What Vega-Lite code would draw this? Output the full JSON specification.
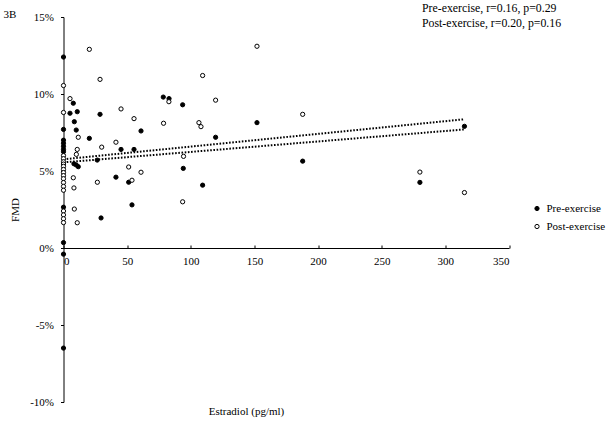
{
  "$schema": "https://vega.github.io/schema/vega-lite/v6.json",
  "width": 445.5,
  "height": 385,
  "autosize": "none",
  "padding": {"left": 63.5, "top": 17, "right": 100, "bottom": 20},
  "background": "white",
  "config": {
    "font": "Liberation Serif",
    "view": {"stroke": null},
    "axis": {"grid": false, "domainColor": "black", "tickColor": "black", "labelColor": "black", "titleColor": "black", "labelFont": "Liberation Serif", "titleFont": "Liberation Serif", "titleFontWeight": "normal", "labelFontSize": 11, "titleFontSize": 11},
    "legend": {"labelFont": "Liberation Serif", "labelColor": "black"}
  },
  "title": {
    "text": ["Pre-exercise, r=0.16, p=0.29", "Post-exercise, r=0.20, p=0.16"],
    "anchor": "start",
    "frame": "group",
    "dx": 358.5,
    "dy": 21,
    "offset": 0,
    "fontSize": 11.8,
    "fontWeight": "normal",
    "font": "Liberation Serif",
    "lineHeight": 15,
    "color": "black"
  },
  "datasets": {
    "points": [
      {"e": 0, "fmd": 12.4, "group": "Pre-exercise"},
      {"e": 0, "fmd": 7.7, "group": "Pre-exercise"},
      {"e": 0, "fmd": 7.0, "group": "Pre-exercise"},
      {"e": 0, "fmd": 6.8, "group": "Pre-exercise"},
      {"e": 0, "fmd": 6.6, "group": "Pre-exercise"},
      {"e": 0, "fmd": 6.4, "group": "Pre-exercise"},
      {"e": 0, "fmd": 6.25, "group": "Pre-exercise"},
      {"e": 0, "fmd": 2.65, "group": "Pre-exercise"},
      {"e": 0, "fmd": 0.35, "group": "Pre-exercise"},
      {"e": 0, "fmd": -0.4, "group": "Pre-exercise"},
      {"e": 0, "fmd": -6.5, "group": "Pre-exercise"},
      {"e": 5.1, "fmd": 8.75, "group": "Pre-exercise"},
      {"e": 7.7, "fmd": 9.4, "group": "Pre-exercise"},
      {"e": 10.8, "fmd": 8.85, "group": "Pre-exercise"},
      {"e": 8.5, "fmd": 8.2, "group": "Pre-exercise"},
      {"e": 10, "fmd": 7.66, "group": "Pre-exercise"},
      {"e": 8.2, "fmd": 5.47, "group": "Pre-exercise"},
      {"e": 10, "fmd": 5.39, "group": "Pre-exercise"},
      {"e": 11.6, "fmd": 5.28, "group": "Pre-exercise"},
      {"e": 20.3, "fmd": 7.12, "group": "Pre-exercise"},
      {"e": 26.5, "fmd": 5.71, "group": "Pre-exercise"},
      {"e": 28.7, "fmd": 8.68, "group": "Pre-exercise"},
      {"e": 29.5, "fmd": 1.95, "group": "Pre-exercise"},
      {"e": 41.2, "fmd": 4.6, "group": "Pre-exercise"},
      {"e": 45.2, "fmd": 6.4, "group": "Pre-exercise"},
      {"e": 51.2, "fmd": 4.27, "group": "Pre-exercise"},
      {"e": 53.8, "fmd": 2.8, "group": "Pre-exercise"},
      {"e": 55.4, "fmd": 6.4, "group": "Pre-exercise"},
      {"e": 60.9, "fmd": 7.6, "group": "Pre-exercise"},
      {"e": 78.4, "fmd": 9.8, "group": "Pre-exercise"},
      {"e": 82.9, "fmd": 9.7, "group": "Pre-exercise"},
      {"e": 93.6, "fmd": 9.3, "group": "Pre-exercise"},
      {"e": 94.1, "fmd": 5.17, "group": "Pre-exercise"},
      {"e": 109.3, "fmd": 4.08, "group": "Pre-exercise"},
      {"e": 119.5, "fmd": 7.19, "group": "Pre-exercise"},
      {"e": 152, "fmd": 8.14, "group": "Pre-exercise"},
      {"e": 187.9, "fmd": 5.64, "group": "Pre-exercise"},
      {"e": 280, "fmd": 4.26, "group": "Pre-exercise"},
      {"e": 315, "fmd": 7.9, "group": "Pre-exercise"},
      {"e": 0, "fmd": 10.55, "group": "Post-exercise"},
      {"e": 0, "fmd": 8.8, "group": "Post-exercise"},
      {"e": 0, "fmd": 6.0, "group": "Post-exercise"},
      {"e": 0, "fmd": 5.8, "group": "Post-exercise"},
      {"e": 0, "fmd": 5.6, "group": "Post-exercise"},
      {"e": 0, "fmd": 5.45, "group": "Post-exercise"},
      {"e": 0, "fmd": 5.3, "group": "Post-exercise"},
      {"e": 0, "fmd": 5.1, "group": "Post-exercise"},
      {"e": 0, "fmd": 4.9, "group": "Post-exercise"},
      {"e": 0, "fmd": 4.7, "group": "Post-exercise"},
      {"e": 0, "fmd": 4.5, "group": "Post-exercise"},
      {"e": 0, "fmd": 4.25, "group": "Post-exercise"},
      {"e": 0, "fmd": 4.0, "group": "Post-exercise"},
      {"e": 0, "fmd": 3.75, "group": "Post-exercise"},
      {"e": 0, "fmd": 2.4, "group": "Post-exercise"},
      {"e": 0, "fmd": 2.15, "group": "Post-exercise"},
      {"e": 0, "fmd": 1.9, "group": "Post-exercise"},
      {"e": 0, "fmd": 1.65, "group": "Post-exercise"},
      {"e": 5.1, "fmd": 9.7, "group": "Post-exercise"},
      {"e": 11.6, "fmd": 7.19, "group": "Post-exercise"},
      {"e": 10.8, "fmd": 6.4, "group": "Post-exercise"},
      {"e": 10.1, "fmd": 6.08, "group": "Post-exercise"},
      {"e": 7.7, "fmd": 4.56, "group": "Post-exercise"},
      {"e": 8.2, "fmd": 3.9, "group": "Post-exercise"},
      {"e": 8.5, "fmd": 2.53, "group": "Post-exercise"},
      {"e": 10.8, "fmd": 1.64, "group": "Post-exercise"},
      {"e": 20.3, "fmd": 12.9, "group": "Post-exercise"},
      {"e": 28.7, "fmd": 10.95, "group": "Post-exercise"},
      {"e": 30, "fmd": 6.55, "group": "Post-exercise"},
      {"e": 26.6, "fmd": 4.27, "group": "Post-exercise"},
      {"e": 41.2, "fmd": 6.87, "group": "Post-exercise"},
      {"e": 45.2, "fmd": 9.03, "group": "Post-exercise"},
      {"e": 51.2, "fmd": 5.26, "group": "Post-exercise"},
      {"e": 53.8, "fmd": 4.4, "group": "Post-exercise"},
      {"e": 55.4, "fmd": 8.4, "group": "Post-exercise"},
      {"e": 60.9, "fmd": 4.92, "group": "Post-exercise"},
      {"e": 78.6, "fmd": 8.1, "group": "Post-exercise"},
      {"e": 82.8, "fmd": 9.5, "group": "Post-exercise"},
      {"e": 93.6, "fmd": 3.0, "group": "Post-exercise"},
      {"e": 94.3, "fmd": 5.95, "group": "Post-exercise"},
      {"e": 106.4, "fmd": 8.14, "group": "Post-exercise"},
      {"e": 108, "fmd": 7.88, "group": "Post-exercise"},
      {"e": 109.3, "fmd": 11.2, "group": "Post-exercise"},
      {"e": 119.5, "fmd": 9.6, "group": "Post-exercise"},
      {"e": 152, "fmd": 13.1, "group": "Post-exercise"},
      {"e": 187.9, "fmd": 8.68, "group": "Post-exercise"},
      {"e": 280, "fmd": 4.93, "group": "Post-exercise"},
      {"e": 315, "fmd": 3.6, "group": "Post-exercise"}
    ],
    "trends": [
      {"e": 0, "fmd": 5.56, "group": "Pre-exercise"},
      {"e": 315, "fmd": 7.7, "group": "Pre-exercise"},
      {"e": 0, "fmd": 5.76, "group": "Post-exercise"},
      {"e": 315, "fmd": 8.36, "group": "Post-exercise"}
    ],
    "panel": [{"label": "3B"}]
  },
  "layer": [
    {
      "data": {"name": "trends"},
      "mark": {"type": "line", "color": "black", "strokeWidth": 2, "strokeDash": [1.6, 1.6], "strokeCap": "butt"},
      "encoding": {
        "x": {"field": "e", "type": "quantitative", "scale": {"domain": [0, 350], "nice": false, "zero": false},
          "axis": {"values": [0, 50, 100, 150, 200, 250, 300, 350], "orient": "bottom", "offset": -154, "tickSize": -3, "labelPadding": 10, "title": "Estradiol (pg/ml)", "titleX": 182.5, "titleY": 163, "titleBaseline": "middle", "titleAlign": "center", "titleAnchor": null}},
        "y": {"field": "fmd", "type": "quantitative", "scale": {"domain": [-10, 15], "nice": false, "zero": false},
          "axis": {"values": [-10, -5, 0, 5, 10, 15], "labelExpr": "datum.value + '%'", "tickSize": 3, "labelPadding": 7, "title": "FMD", "titlePadding": 9}},
        "detail": {"field": "group"}
      }
    },
    {
      "data": {"name": "points"},
      "mark": {"type": "point", "shape": "circle", "stroke": "black", "strokeWidth": 1, "size": 18, "opacity": 1},
      "encoding": {
        "x": {"field": "e", "type": "quantitative"},
        "y": {"field": "fmd", "type": "quantitative"},
        "fill": {"field": "group", "type": "nominal",
          "scale": {"domain": ["Pre-exercise", "Post-exercise"], "range": ["black", "white"]},
          "legend": {"title": null, "orient": "none", "legendX": 468, "legendY": 186, "symbolType": "circle", "symbolSize": 18, "symbolStrokeColor": "black", "symbolStrokeWidth": 1, "symbolOpacity": 1, "labelFontSize": 11, "labelOffset": 4, "rowPadding": 6}}
      }
    },
    {
      "data": {"name": "panel"},
      "mark": {"type": "text", "align": "left", "baseline": "middle", "fontSize": 11, "color": "black"},
      "encoding": {
        "x": {"datum": -47.1, "type": "quantitative"},
        "y": {"datum": 15.13, "type": "quantitative"},
        "text": {"field": "label"}
      }
    }
  ]
}
